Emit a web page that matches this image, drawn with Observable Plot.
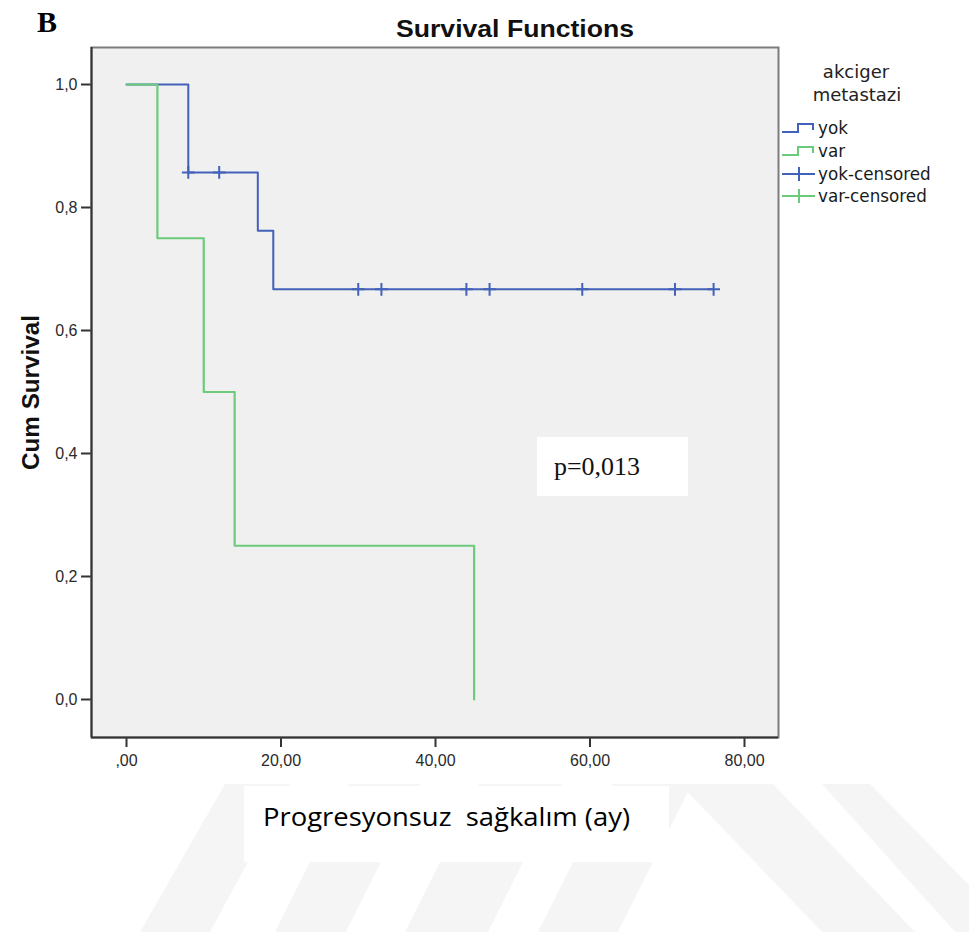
<!DOCTYPE html>
<html><head><meta charset="utf-8">
<script src="https://cdn.jsdelivr.net/npm/d3@7"></script>
<script src="https://cdn.jsdelivr.net/npm/@observablehq/plot@0.6"></script>
<style>
body{margin:0;background:#fff;}
#wrap{position:relative;width:969px;height:932px;overflow:hidden;background:#fff;}
#wrap > svg{position:absolute;left:0;top:0;}
[aria-label^="x-axis"] path,[aria-label^="x-axis"] line,[aria-label^="y-axis"] path,[aria-label^="y-axis"] line{stroke-width:2px;stroke:#333;}
[aria-label^="x-axis"] text,[aria-label^="y-axis"] text{font-size:16px;fill:#2a2a2a;}
</style></head><body><div id="wrap"></div>
<script>
// ---- data ----
const groupNames = ["yok", "var"];
const groupColors = ["#4261b9", "#6bcb7b"];
const yokTime = [0, 8, 17, 19, 76];
const yokSurv = [1.0, 0.857, 0.762, 0.667, 0.667];
const yokCensTime = [8, 12, 30, 33, 44, 47, 59, 71, 76];
const yokCensSurv = [0.857, 0.857, 0.667, 0.667, 0.667, 0.667, 0.667, 0.667, 0.667];
const varTime = [0, 4, 10, 14, 45];
const varSurv = [1.0, 0.75, 0.5, 0.25, 0.0];
const xTicks = [0, 20, 40, 60, 80];
const yTicks = [0, 0.2, 0.4, 0.6, 0.8, 1.0];
const legendLabels = ["yok", "var", "yok-censored", "var-censored"];
const titleText = "Survival Functions";
const yLabel = "Cum Survival";
const xLabel = "Progresyonsuz  sağkalım (ay)";
const pText = "p=0,013";

// ---- layout ----
const W = 969, H = 932;
const fL = 91, fR = 778, fT = 47, fB = 737;
const x0px = 126, x80px = 744, y1px = 84, y0px = 699;
const kx = (x80px - x0px) / 80, ky = (y0px - y1px) / 1;
const xDom = [(fL - x0px) / kx, (fR - x0px) / kx];
const yDom = [(y0px - fB) / ky, (y0px - fT) / ky];

const yokLine = yokTime.map((t, i) => ({t, s: yokSurv[i]}));
const varLine = varTime.map((t, i) => ({t, s: varSurv[i]}));
const yokCens = yokCensTime.map((t, i) => ({t, s: yokCensSurv[i]}));

const fmtX = v => v === 0 ? ",00" : v.toFixed(2).replace(".", ",");
const fmtY = v => v.toFixed(1).replace(".", ",");

const wrap = document.getElementById("wrap");
const NS = "http://www.w3.org/2000/svg";

// watermark (background)
const wm = document.createElementNS(NS, "svg");
wm.setAttribute("width", W); wm.setAttribute("height", H);
const wmPolys = [
  "225,784 290,784 210,932 140,932",
  "349,784 420,784 346,932 275,932",
  "479,784 562,784 488,932 405,932",
  "612,784 692,784 618,932 538,932",
  "680,784 773,784 915,932 822,932",
  "822,784 870,784 969,885 969,932 955,932"
];
for (const p of wmPolys) {
  const poly = document.createElementNS(NS, "polygon");
  poly.setAttribute("points", p); poly.setAttribute("fill", "#f5f5f5");
  wm.appendChild(poly);
}
wrap.appendChild(wm);

const chart = Plot.plot({
  width: W, height: H,
  marginLeft: fL, marginRight: W - fR, marginTop: fT, marginBottom: H - fB,
  style: {background: "transparent", fontFamily: "'Liberation Sans', Arial, sans-serif", fontSize: "16px", color: "#2a2a2a"},
  x: {domain: xDom, ticks: xTicks, tickFormat: fmtX, label: null, tickSize: 10, tickPadding: 7},
  y: {domain: yDom, ticks: yTicks, tickFormat: fmtY, label: null, tickSize: 10, tickPadding: 4},
  marks: [
    Plot.frame({fill: "#f0f0f0", stroke: "#7c7c7c", strokeWidth: 2}),
    Plot.ruleX([xDom[0]], {stroke: "#333", strokeWidth: 2}),
    Plot.ruleY([yDom[0]], {stroke: "#333", strokeWidth: 2}),
    Plot.line(yokLine, {x: "t", y: "s", curve: "step-after", stroke: groupColors[0], strokeWidth: 2}),
    Plot.dot(yokCens, {x: "t", y: "s", symbol: "plus", r: 4.2, fill: "none", stroke: groupColors[0], strokeWidth: 2}),
    Plot.line(varLine, {x: "t", y: "s", curve: "step-after", stroke: groupColors[1], strokeWidth: 2.2})
  ]
});
wrap.appendChild(chart);

// overlay annotations
const ov = document.createElementNS(NS, "svg");
ov.setAttribute("width", W); ov.setAttribute("height", H);
function txt(s, attrs) {
  const t = document.createElementNS(NS, "text");
  for (const k in attrs) t.setAttribute(k, attrs[k]);
  t.style.whiteSpace = "pre";
  t.textContent = s; ov.appendChild(t); return t;
}
function el(name, attrs) {
  const e = document.createElementNS(NS, name);
  for (const k in attrs) e.setAttribute(k, attrs[k]);
  ov.appendChild(e); return e;
}
const sans = "'Liberation Sans', Arial, sans-serif";
const serif = "'Liberation Serif', 'Times New Roman', serif";
txt("B", {x: 37, y: 32, "font-family": serif, "font-weight": "bold", "font-size": 30, fill: "#000"});
txt(titleText, {x: 396, y: 37, textLength: 238, lengthAdjust: "spacingAndGlyphs", "font-family": sans, "font-weight": "bold", "font-size": 24, fill: "#111"});
txt(yLabel, {transform: "translate(39,470) rotate(-90)", textLength: 155, lengthAdjust: "spacingAndGlyphs", "font-family": sans, "font-weight": "bold", "font-size": 23, fill: "#111"});
// legend
const dv = "'DejaVu Sans', sans-serif";
txt("akciger", {x: 856, y: 78, "text-anchor": "middle", "font-family": dv, "font-size": 18, fill: "#222"});
txt("metastazi", {x: 857, y: 101, "text-anchor": "middle", "font-family": dv, "font-size": 18, fill: "#222"});
const rowY = [128, 151, 174, 196];
legendLabels.forEach((lab, i) => {
  const c = groupColors[i % 2];
  const y = rowY[i];
  if (i < 2) {
    el("path", {d: `M782,${y + 4}H798V${y - 4}H813V${y + 2}`, fill: "none", stroke: c, "stroke-width": 2});
  } else {
    el("path", {d: `M782,${y}H815M799,${y - 7}V${y + 7}`, fill: "none", stroke: c, "stroke-width": 2});
  }
  txt(lab, {x: 818, y: y + 6, "font-family": dv, "font-size": 16.8, fill: "#1a1a1a"});
});
// p value box
el("rect", {x: 537, y: 437, width: 151, height: 59, fill: "#fff"});
txt(pText, {x: 554, y: 475, textLength: 86, lengthAdjust: "spacingAndGlyphs", "font-family": serif, "font-size": 26, fill: "#111"});
// x label box
el("rect", {x: 244, y: 786, width: 425, height: 76, fill: "#fff"});
txt(xLabel, {x: 263, y: 826, textLength: 367, lengthAdjust: "spacingAndGlyphs", "font-family": "'Open Sans', Lato, sans-serif", "font-size": 25, fill: "#000"});
wrap.appendChild(ov);
</script></body></html>
